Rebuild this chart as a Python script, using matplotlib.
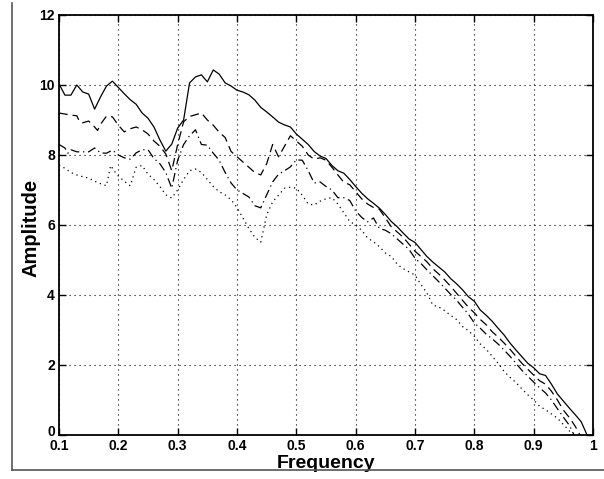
import matplotlib
matplotlib.use("Agg")
from matplotlib import pyplot as plt
from matplotlib.lines import Line2D
from matplotlib.transforms import ScaledTranslation

plt.rcParams["font.family"] = ["Liberation Sans", "DejaVu Sans"]

# solid curve
freq_solid = [0.10, 0.11, 0.12, 0.13, 0.14, 0.15, 0.16, 0.17, 0.18, 0.19,
              0.20, 0.21, 0.22, 0.23, 0.24, 0.25, 0.26, 0.27, 0.28, 0.29,
              0.30, 0.31, 0.32, 0.33, 0.34, 0.35, 0.36, 0.37, 0.38, 0.39,
              0.40, 0.41, 0.42, 0.43, 0.44, 0.45, 0.46, 0.47, 0.48, 0.49,
              0.50, 0.51, 0.52, 0.53, 0.54, 0.55, 0.56, 0.57, 0.58, 0.59,
              0.60, 0.61, 0.62, 0.63, 0.64, 0.65, 0.66, 0.67, 0.68, 0.69,
              0.70, 0.71, 0.72, 0.73, 0.74, 0.75, 0.76, 0.77, 0.78, 0.79,
              0.80, 0.81, 0.82, 0.83, 0.84, 0.85, 0.86, 0.87, 0.88, 0.89,
              0.90, 0.91, 0.92, 0.93, 0.94, 0.95, 0.96, 0.97, 0.98, 0.99]
amp_solid = [10.03, 9.71, 9.71, 10.0, 9.8, 9.74, 9.31, 9.66, 9.97, 10.11,
             9.93, 9.75, 9.58, 9.45, 9.2, 9.05, 8.8, 8.43, 8.11, 8.31,
             8.77, 9.0, 10.06, 10.23, 10.29, 10.09, 10.43, 10.31, 10.06, 9.97,
             9.85, 9.8, 9.72, 9.57, 9.36, 9.23, 9.09, 8.94, 8.86, 8.8,
             8.6, 8.45, 8.3, 8.1, 7.97, 7.9, 7.7, 7.55, 7.48, 7.3,
             7.1, 6.91, 6.75, 6.62, 6.48, 6.3, 6.1, 5.95, 5.77, 5.6,
             5.5, 5.3, 5.1, 4.94, 4.8, 4.66, 4.47, 4.32, 4.15, 3.95,
             3.82, 3.57, 3.42, 3.25, 3.05, 2.86, 2.63, 2.43, 2.24, 2.05,
             1.92, 1.75, 1.7, 1.45, 1.17, 0.97, 0.77, 0.58, 0.38, 0.0]

# dashed curve
freq_dashed = [0.10, 0.11, 0.12, 0.13, 0.135, 0.14, 0.15, 0.16, 0.165, 0.17,
               0.18, 0.19, 0.20, 0.21, 0.22, 0.23, 0.24, 0.25, 0.26, 0.27,
               0.28, 0.29, 0.30, 0.31, 0.32, 0.33, 0.34, 0.35, 0.36, 0.37,
               0.38, 0.39, 0.40, 0.41, 0.42, 0.43, 0.44, 0.45, 0.46, 0.47,
               0.48, 0.49, 0.50, 0.51, 0.52, 0.53, 0.54, 0.55, 0.56, 0.57,
               0.58, 0.59, 0.60, 0.61, 0.62, 0.63, 0.64, 0.65, 0.66, 0.67,
               0.68, 0.69, 0.70, 0.71, 0.72, 0.73, 0.74, 0.75, 0.76, 0.77,
               0.78, 0.79, 0.80, 0.81, 0.82, 0.83, 0.84, 0.85, 0.86, 0.87,
               0.88, 0.89, 0.90, 0.91, 0.92, 0.93, 0.94, 0.95, 0.96, 0.97,
               0.978]
amp_dashed = [9.2, 9.17, 9.14, 9.12, 8.94, 8.92, 8.97, 8.8, 8.7, 8.88,
              9.11, 9.09, 8.85, 8.66, 8.75, 8.8, 8.72, 8.6, 8.4, 8.25,
              8.03, 7.55, 8.3, 8.95, 9.1, 9.15, 9.2, 9.0, 8.85, 8.65,
              8.5, 8.1, 7.95, 7.8, 7.65, 7.5, 7.43, 7.75, 8.3, 7.95,
              8.25, 8.55, 8.4, 8.25, 8.0, 7.88, 7.92, 7.85, 7.65, 7.43,
              7.22, 7.15, 6.95, 6.75, 6.6, 6.5, 6.45, 6.2, 5.95, 5.8,
              5.65, 5.45, 5.25, 5.1, 4.95, 4.75, 4.6, 4.43, 4.25, 4.05,
              3.85, 3.65, 3.49, 3.3, 3.15, 2.95, 2.8, 2.63, 2.45, 2.25,
              2.05, 1.88, 1.71, 1.55, 1.45, 1.25, 1.0, 0.71, 0.5, 0.25,
              0.0]

# dash-dot curve
freq_dashdot = [0.10, 0.11, 0.115, 0.12, 0.13, 0.14, 0.15, 0.16, 0.17, 0.18,
                0.19, 0.20, 0.21, 0.22, 0.23, 0.24, 0.25, 0.26, 0.27, 0.28,
                0.29, 0.30, 0.31, 0.32, 0.33, 0.34, 0.35, 0.36, 0.37, 0.38,
                0.39, 0.40, 0.41, 0.42, 0.43, 0.44, 0.45, 0.46, 0.47, 0.48,
                0.49, 0.50, 0.51, 0.52, 0.53, 0.54, 0.55, 0.56, 0.57, 0.58,
                0.59, 0.60, 0.61, 0.62, 0.63, 0.64, 0.65, 0.66, 0.67, 0.68,
                0.69, 0.70, 0.71, 0.72, 0.73, 0.74, 0.75, 0.76, 0.77, 0.78,
                0.79, 0.80, 0.81, 0.82, 0.83, 0.84, 0.85, 0.86, 0.87, 0.88,
                0.89, 0.90, 0.91, 0.92, 0.93, 0.94, 0.95, 0.96, 0.968]
amp_dashdot = [8.3, 8.2, 8.05, 8.15, 8.09, 8.09, 8.09, 8.2, 8.06, 8.05,
               8.14, 8.0, 7.92, 7.88, 8.06, 8.15, 8.15, 7.9, 7.75, 7.5,
               7.05, 7.85, 8.3, 8.55, 8.72, 8.3, 8.28, 8.05, 7.85, 7.5,
               7.2, 7.0, 6.9, 6.8, 6.55, 6.49, 6.86, 7.23, 7.45, 7.55,
               7.66, 7.86, 7.85, 7.55, 7.2, 7.23, 7.1, 7.0, 6.78, 6.78,
               6.7, 6.4, 6.22, 6.09, 6.2, 5.9, 5.85, 5.75, 5.6, 5.45,
               5.3, 5.05, 4.9, 4.72, 4.55, 4.38, 4.2, 4.02, 3.85, 3.65,
               3.45, 3.2, 3.05, 2.88, 2.75, 2.6, 2.43, 2.25, 2.05, 1.85,
               1.68, 1.51, 1.35, 1.2, 1.0, 0.75, 0.51, 0.28, 0.0]

# dotted curve
freq_dotted = [0.10, 0.11, 0.12, 0.13, 0.14, 0.15, 0.16, 0.17, 0.18, 0.187,
               0.195, 0.20, 0.21, 0.22, 0.23, 0.24, 0.25, 0.26, 0.27, 0.28,
               0.29, 0.30, 0.31, 0.32, 0.33, 0.34, 0.35, 0.36, 0.37, 0.38,
               0.39, 0.40, 0.41, 0.42, 0.43, 0.44, 0.45, 0.46, 0.47, 0.48,
               0.49, 0.50, 0.51, 0.52, 0.53, 0.54, 0.55, 0.56, 0.57, 0.58,
               0.59, 0.60, 0.61, 0.62, 0.63, 0.64, 0.65, 0.66, 0.67, 0.68,
               0.69, 0.70, 0.71, 0.72, 0.73, 0.74, 0.75, 0.76, 0.77, 0.78,
               0.79, 0.80, 0.81, 0.82, 0.83, 0.84, 0.85, 0.86, 0.87, 0.88,
               0.89, 0.90, 0.91, 0.92, 0.93, 0.94, 0.95, 0.96, 0.965]
amp_dotted = [7.71, 7.62, 7.5, 7.43, 7.38, 7.34, 7.25, 7.18, 7.12, 7.7,
              7.5, 7.4, 7.25, 7.12, 7.65, 7.7, 7.45, 7.3, 7.1, 6.86,
              6.77, 7.0, 7.3, 7.55, 7.6, 7.5, 7.3, 7.1, 6.95, 6.86,
              6.72, 6.5, 6.2, 5.9, 5.65, 5.51, 6.29, 6.66, 6.85, 7.05,
              7.08, 7.05, 6.85, 6.6, 6.57, 6.68, 6.75, 6.78, 6.6, 6.35,
              6.1, 6.0, 5.85, 5.63, 5.52, 5.38, 5.2, 5.1, 4.88, 4.75,
              4.66, 4.57, 4.3, 4.06, 3.71, 3.66, 3.55, 3.42, 3.3, 3.1,
              2.98, 2.82, 2.6, 2.45, 2.25, 2.05, 1.82, 1.65, 1.5, 1.32,
              1.15, 1.0, 0.82, 0.72, 0.6, 0.48, 0.3, 0.12, 0.0]

xticks = [0.1, 0.2, 0.3, 0.4, 0.5, 0.6, 0.7, 0.8, 0.9, 1.0]
xtick_labels = ["0.1", "0.2", "0.3", "0.4", "0.5", "0.6", "0.7", "0.8", "0.9", "1"]
yticks = [0, 2, 4, 6, 8, 10, 12]

fig = plt.figure(figsize=(6.04, 4.79), dpi=100)
ax = fig.add_axes([0.0977, 0.0919, 0.8841, 0.8768])

lw = 0.9
ax.plot(freq_solid, amp_solid, color="black", lw=lw, ls="-")
ax.plot(freq_dashed, amp_dashed, color="black", lw=lw, ls=(0, (7, 4)))
ax.plot(freq_dashdot, amp_dashdot, color="black", lw=lw, ls=(0, (7, 3, 1, 3)))
ax.plot(freq_dotted, amp_dotted, color="black", lw=lw, ls=(0, (1, 3)))

ax.set_xlim(0.1, 1.0)
ax.set_ylim(0, 12)
ax.set_xticks(xticks)
ax.set_xticklabels(xtick_labels)
ax.set_yticks(yticks)
ax.grid(True, color="black", ls=(0, (1, 3.5)), lw=0.8)
ax.tick_params(direction="in", length=5, width=1, top=True, right=True,
               labelsize=10, pad=3)
for lab in ax.get_xticklabels() + ax.get_yticklabels():
    lab.set_fontweight("bold")
# lift the "0" label a little, as in the original where it sits above "0.1"
ylab0 = ax.get_yticklabels()[0]
ylab0.set_transform(ylab0.get_transform() +
                    ScaledTranslation(0, 4 / 100, fig.dpi_scale_trans))
for sp in ax.spines.values():
    sp.set_linewidth(1.3)

ax.set_xlabel("Frequency", fontsize=14, fontweight="bold", labelpad=1)
ax.set_ylabel("Amplitude", fontsize=14.5, fontweight="bold")
ax.yaxis.set_label_coords(-0.034, 0.493)

# grey frame lines at left and bottom of the figure
fig.add_artist(Line2D([12 / 604, 12 / 604], [9 / 479, 476 / 479],
                      color="#555555", lw=1.2, transform=fig.transFigure))
fig.add_artist(Line2D([12 / 604, 1.0], [9 / 479, 9 / 479],
                      color="#555555", lw=1.2, transform=fig.transFigure))

fig.savefig("out.png", dpi=100)
